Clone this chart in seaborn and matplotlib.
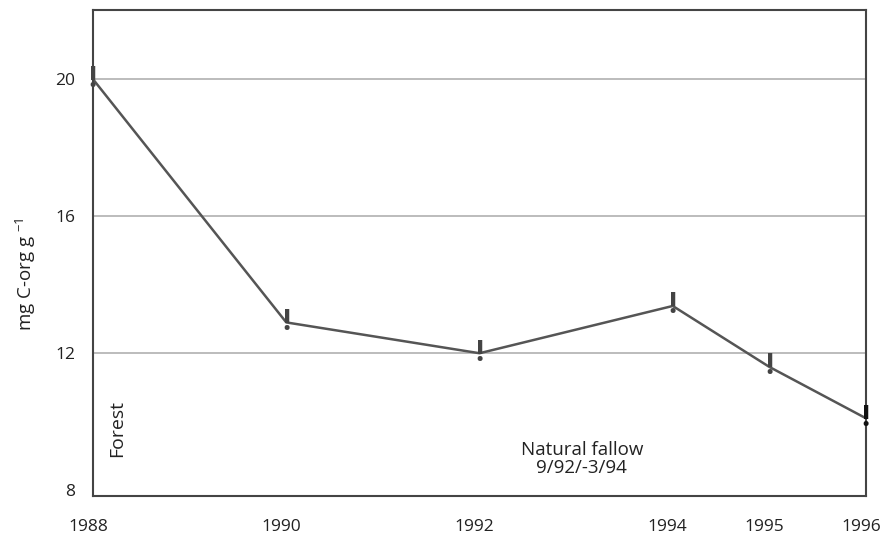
import matplotlib
matplotlib.use("Agg")
import matplotlib.pyplot as plt
import matplotlib.transforms as mtransforms
import seaborn as sns
import pandas as pd

years = [1988, 1990, 1992, 1994, 1995, 1996]
carbon = [20.0, 12.9, 12.0, 13.38, 11.6, 10.1]
yticks = [8, 12, 16, 20]
grid_levels = [12, 16, 20]

sns.set_theme(style="white")
plt.rcParams['font.family'] = ['Open Sans', 'DejaVu Sans']
plt.rcParams['mathtext.fontset'] = 'custom'
plt.rcParams['mathtext.rm'] = 'Open Sans'

df = pd.DataFrame({"year": years, "c": carbon})

fig = plt.figure(figsize=(8.8, 5.39), dpi=100)
ax = fig.add_axes([0.1057, 0.0803, 0.8784, 0.9011])

for g in grid_levels:
    ax.axhline(g, color="#aaaaaa", lw=1.1, zorder=0)

sns.lineplot(data=df, x="year", y="c", ax=ax, color="#555555", lw=1.8, zorder=2)

for i, (x, y) in enumerate(zip(years, carbon)):
    col = "#111111" if i == len(years) - 1 else "#444444"
    ax.text(x, y, "!", ha="center", va="center", fontsize=21, fontweight="bold",
            color=col, zorder=3, clip_on=False)

ax.set_xlim(1988, 1996)
ax.set_ylim(7.84, 22.02)
ax.set_xticks(years)
ax.set_xticklabels([str(y) for y in years])
ax.set_yticks(yticks)
ax.set_yticklabels([str(v) for v in yticks])
ax.tick_params(axis="x", length=0, pad=17, labelsize=12.5, colors="#222222")
ax.tick_params(axis="y", length=0, pad=13, labelsize=12.5, colors="#222222")
offset = mtransforms.ScaledTranslation(-5 / 100, 0, fig.dpi_scale_trans)
for lab in ax.get_xticklabels():
    lab.set_transform(lab.get_transform() + offset)
ax.set_xlabel("")
ax.set_ylabel(r"mg C-org g $^{\mathrm{-1}}$", fontsize=13.5, color="#222222")
ax.yaxis.set_label_coords(-0.071, 0.456)

for s in ax.spines.values():
    s.set_visible(True)
    s.set_color("#444444")
    s.set_linewidth(1.5)

ax.text(1988.25, 8.97, "Forest", rotation=90, ha="center", va="bottom",
        fontsize=14, color="#222222")
ax.text(1993.06, 8.91, "Natural fallow\n9/92/-3/94", ha="center", va="center",
        fontsize=13.5, color="#222222", linespacing=1.05)

fig.savefig("out.png", dpi=100)
